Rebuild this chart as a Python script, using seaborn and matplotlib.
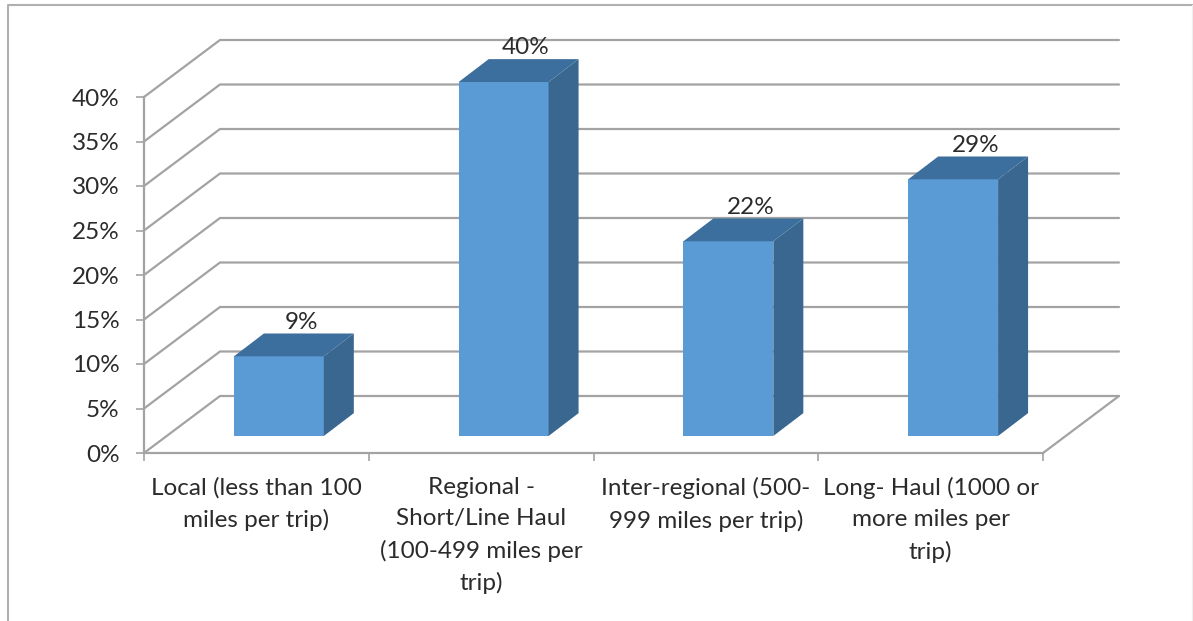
import matplotlib
matplotlib.use("Agg")
import matplotlib.pyplot as plt
from matplotlib.patches import Polygon
import pandas as pd
import seaborn as sns

categories = [
    "Local (less than 100\nmiles per trip)",
    "Regional -\nShort/Line Haul\n(100-499 miles per\ntrip)",
    "Inter-regional (500-\n999 miles per trip)",
    "Long- Haul (1000 or\nmore miles per\ntrip)",
]
shares = [9, 40, 22, 29]
axis_ticks = [0, 5, 10, 15, 20, 25, 30, 35, 40]

FIG_W, FIG_H = 1193, 621
GRID = "#a3a3a3"
TEXT = "#2b2b2b"
FRONT = "#5b9bd5"
SIDE = "#3a678f"
TOP = "#3d6f9e"

sns.set_theme(style="white")
plt.rcParams["font.family"] = ["Lato", "DejaVu Sans"]

fig = plt.figure(figsize=(FIG_W / 100, FIG_H / 100), dpi=100, facecolor="white")


def pixel_axes(left, top, right, bottom, **kw):
    return fig.add_axes(
        [left / FIG_W, 1 - bottom / FIG_H, (right - left) / FIG_W, (bottom - top) / FIG_H], **kw
    )


# Outer chart frame
frame = fig.add_axes([0, 0, 1, 1], zorder=0)
frame.set_xlim(0, FIG_W)
frame.set_ylim(FIG_H, 0)
frame.axis("off")
frame.plot([7.5, 7.5, FIG_W], [FIG_H, 4.5, 4.5], color="#b0b0b0", lw=1.5)
frame.plot([1192, 1192], [4.5, FIG_H], color="#efefef", lw=1)

# Front plane of the box: y axis, category axis and ticks
ax = pixel_axes(144, 97, 1043, 453, zorder=1)
ax.set_facecolor("none")
ax.set_xlim(-0.5, 3.5)
ax.set_ylim(0, 40)

units_x = 4 / (1043 - 144)
units_y = 40 / (453 - 97)
wall_dx = 76 * units_x
wall_dy = 57 * units_y

# Back wall gridlines with their slanted returns to the y axis
x0, x1 = -0.5, 3.5
for v in axis_ticks:
    ax.plot([x0, x0 + wall_dx, x1 + wall_dx], [v, v + wall_dy, v + wall_dy],
            color=GRID, lw=1.6, clip_on=False, solid_joinstyle="miter")
ax.plot([x1 + wall_dx, x1], [wall_dy, 0], color=GRID, lw=1.6, clip_on=False)

for name in ("top", "right"):
    ax.spines[name].set_visible(False)
for name in ("left", "bottom"):
    ax.spines[name].set_visible(True)
    ax.spines[name].set_color(GRID)
    ax.spines[name].set_linewidth(1.6)

ax.set_yticks(axis_ticks)
ax.set_yticklabels([f"{v}%" for v in axis_ticks], fontsize=17.5, color=TEXT)
ax.tick_params(axis="y", which="major", left=True, length=5.5, width=1.2, color=GRID, pad=12)
ax.set_xticks([-0.5, 0.5, 1.5, 2.5, 3.5])
ax.set_xticklabels([])
ax.tick_params(axis="x", which="major", bottom=True, length=6, width=1.2, color=GRID)
ax.set_xticks([0, 1, 2, 3], minor=True)
ax.set_xticklabels(categories, minor=True, fontsize=17.5, color=TEXT, linespacing=1.58)
ax.tick_params(axis="x", which="minor", bottom=False, length=0, pad=17.5)

# Bars sit part-way into the floor, so they get their own shifted plane
bars = pixel_axes(144 + 22.5, 436 - 354, 1043 + 22.5, 436, zorder=2)
bars.set_facecolor("none")
table = pd.DataFrame({"category": categories, "share": shares})
sns.barplot(data=table, x="category", y="share", color=FRONT, saturation=1,
            width=0.4, ax=bars, linewidth=0)
bars.set_xlim(-0.5, 3.5)
bars.set_ylim(0, 40)
bars.axis("off")

depth_x = 30 * units_x
depth_y = 23 * units_y
for patch, value in zip(bars.patches, shares):
    left = patch.get_x()
    right = left + patch.get_width()
    bars.add_patch(Polygon(
        [(right, 0), (right + depth_x, depth_y), (right + depth_x, value + depth_y), (right, value)],
        closed=True, facecolor=SIDE, edgecolor="none", clip_on=False))
    bars.add_patch(Polygon(
        [(left, value), (left + depth_x, value + depth_y), (right + depth_x, value + depth_y), (right, value)],
        closed=True, facecolor=TOP, edgecolor="none", clip_on=False))
    bars.annotate(f"{value}%", xy=((left + right) / 2, value), xytext=(16, 24.5),
                  textcoords="offset points", ha="center", va="center",
                  fontsize=17.5, color=TEXT, annotation_clip=False, zorder=5)

fig.savefig("out.png", dpi=100, facecolor="white")
